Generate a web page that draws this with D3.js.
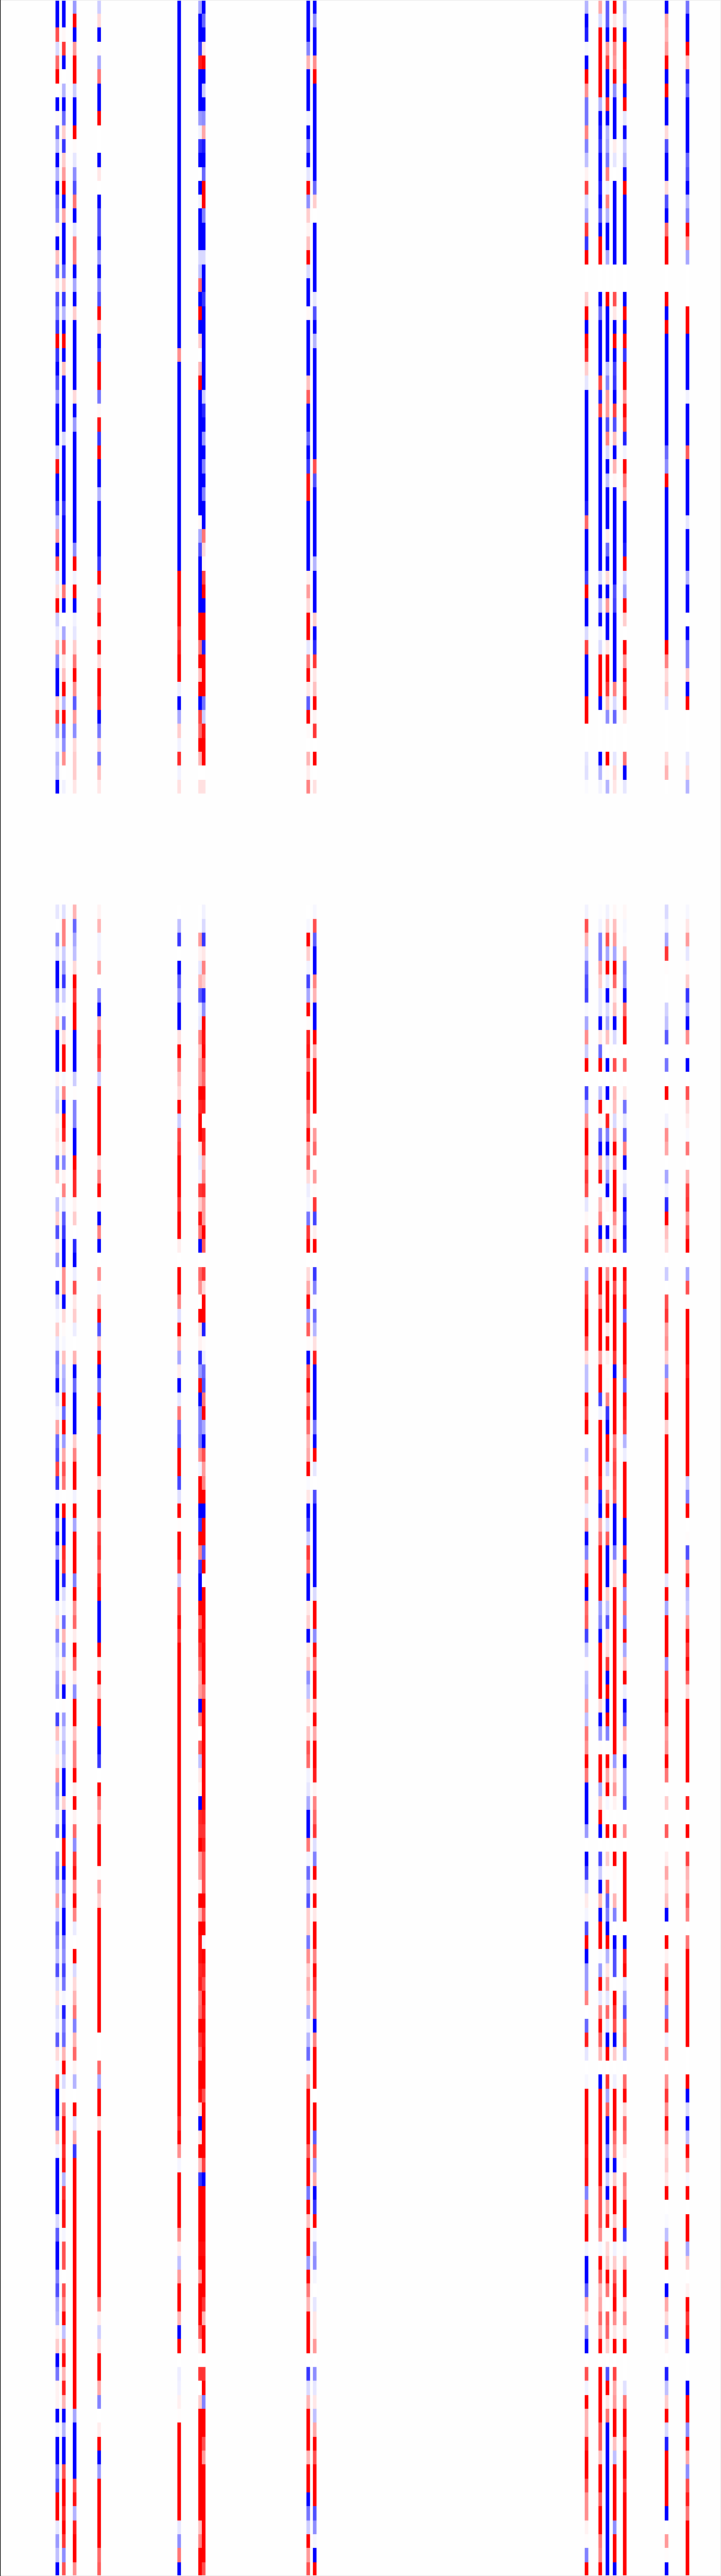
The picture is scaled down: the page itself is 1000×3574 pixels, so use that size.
<!DOCTYPE html>
<html>
<head>
<meta charset="utf-8">
<script src="https://cdn.jsdelivr.net/npm/d3@7"></script>
<style>
  html, body { margin: 0; padding: 0; background: #fff; }
  svg { display: block; }
</style>
</head>
<body>
<div id="heatmap"></div>
<script>
const FRAME_HEIGHT = 3574;
const FRAME_WIDTH = 1000;
const COLUMN_COUNT = 207;
const ROW_COUNT = 185;

// values, -10 is full blue, 10 is full red, null is an empty row
const col16 = [-10,-10,7,-1.5,6,10,0,-10,0.2,-7,-2.5,-10,-3,-10,-5.5,
  -5,0.5,-10,2.5,-6,1,-7,-5,-8,10,-8,-10,-7,-4,-10,-10,-10,-2,9.5,-10,-10,
  -7,-2.5,4,-10,7,-1,1.5,10,-2,-0.7,3,-5,-10,-10,2,7.5,-3.5,-0.5,-3,-2.5,-10,
  null,null,null,null,null,null,null,null,
  -1,0,-4.5,-1,-10,-10,-4,-1,3,-10,-10,-10,0.5,-2,-2.5,0.5,1.2,0.7,-5.5,2,0,-2.5,2,-7,
  0.8,-4,0,-9,-1.5,-0.3,2,-1,-5,-4.5,-10,-1.5,-0.5,3.5,-6,-7,7.5,-8,-0.2,-10,-5,-10,-4,-10,
  -10,-10,-1,1.5,-5,-1.5,-1,-4,-4.5,0,-7.5,2.5,-1,1,4,-4.5,-3.5,-1,-6,0,-5,-6,-2,4,
  -2,-6,-5,-2.5,-7,-1.5,1.2,-1.5,-0.7,-6.5,1.5,-0.3,7.5,-10,-10,-6.5,2.5,-0.5,-10,-10,-10,-10,-1.5,-6.5,
  -10,-10,-5,-7,-3.5,-3,0.5,2,-10,-5.5,0.5,0.5,-10,-0.5,-10,-10,-5,-7,10,10,-1,-4,-2.5,-10];

const col18 = [-10,-10,0.3,8,-10,0,-3,-10,-6,2,-8,2,4,10,-10,
  3.5,-10,-10,-10,-6,2,-8,-3,-10,10,-10,2.5,-10,-10,-10,-10,-1.5,-10,-10,-10,-10,
  -8,-10,-10,-10,-10,-10,5.5,-10,0,-3.5,6,1,2.5,10,-3,10,-6,-4.5,4.5,0,-0.5,
  null,null,null,null,null,null,null,null,
  -1.2,5,5,-2,-4,-8,-2,-0.2,-5.5,1.5,10,10,-0.3,5,-10,10,9,1.5,-5,0.5,5,-1,-6.5,-8,
  -10,-10,4.5,4.5,-10,1.5,0.2,-0.3,2.5,-3,-3.5,10,-6,10,-4,3.5,7,5.5,0,10,-10,-10,8.5,8,
  -9,-1.5,-0.5,-6,3,-5,1.2,2.5,-10,0.1,-4,-2,-3.5,-2.5,-10,-10,2,-9,-10,10,10,-10,-6,-5,
  -10,-10,-5,-4.5,-7.5,-5.5,-0.4,-9,-5,-6,3,10,-1.5,0.2,5.5,10,10,8.5,9.5,-3,8.5,9.5,9.5,-0.4,
  7,7,0,7,5,10,-2.5,5,10,3,9,3,-10,-3,-10,-10,7,10,10,8.5,10,8,-4.5,7];

const col21 = [-4,10,-10,4,10,10,-2,-10,-10,10,0.2,-1,-4.5,-7,5.5,
  -10,-1,5.5,5,-10,-3.5,-10,2,-10,-10,-10,-10,-10,1.5,-10,-4,-10,-10,-10,-10,-10,
  -10,-10,-10,-4.5,10,-0.5,10,-10,-0.5,-1,2,5.5,10,4.5,-6.5,4,-4.5,1.5,2,2,1,
  null,null,null,null,null,null,null,null,
  3,-6,-3.5,-2.5,1.5,10,8,10,10,-10,-10,-10,-2,0.1,-5,-5,-10,-10,10,8.5,8.5,0.5,2,0,
  -8.5,-10,-0.7,7,1,2,-0.7,0,3,-10,-6,-10,-10,-10,2,5,10,10,-0.5,10,-3.5,10,10,10,
  -5,10,4.5,6,0.8,10,6,1,-4.5,10,10,2.5,5,5,10,0.7,10,0.5,6,-4.5,8,9.5,4,10,
  5,-0.8,0,10,-1.5,1.5,3,5.5,-5,3,6,0.5,-3,0,10,-1.2,3.5,-8,10,10,10,10,10,10,
  10,10,10,10,10,10,10,10,10,10,10,10,-3.5,-10,-10,-10,-10,7,9.5,-3,9,10,10,4.5];

const col28 = [-2,1.5,-10,0.2,-3.5,5.5,-10,-10,10,0,0,-10,1,0,-10,
  -7,-7,-10,-4,-10,-4.5,-7,10,2,-10,-8,10,10,-5.5,0.3,9.5,-8,10,-10,-10,-3,
  -10,-10,-10,-10,-8,10,-0.7,6.5,10,1,10,1.5,10,10,8.5,-10,-5.5,1.5,-5.5,2.5,1,
  null,null,null,null,null,null,null,null,
  0.5,3,-0.5,-0.5,3.5,0,-4.5,-10,3.5,7,8.5,7.5,-2,10,10,10,10,10,1.5,5,10,0.2,-10,5,
  -10,0,4.5,-0.2,3,10,-7,2,10,-10,-5,10,-10,-6,10,10,10,1.5,10,10,2.5,8,8.5,6,
  9,10,-10,-10,-10,10,1,10,2.5,10,10,-10,-10,-8,0,10,4.5,3,10,10,10,0.2,4,2,
  10,10,10,10,10,10,10,10,10,0,0,6,-3.5,10,10,1.3,10,10,10,10,10,10,10,10,
  10,10,10,10,5,0.7,-2,1.5,10,10,3.5,-5,0,0.7,10,-10,-4,10,10,10,10,10,6,6.5];

const col51 = [-10,-10,-10,-10,-10,-10,-10,-10,-10,-10,-10,-10,-10,-10,-10,
  -10,-10,-10,-10,-10,-10,-10,-10,-10,-10,4.5,-10,-10,-10,-10,-10,-10,-10,-10,-10,-10,
  -10,-10,-10,-10,-10,10,10,10,10,8,9,10,10,-0.7,-10,-3.5,2,-0.5,8.5,-0.5,1.2,
  null,null,null,null,null,null,null,null,
  0,-2.5,-8,0,-10,-6.5,-4,-10,-10,1.2,10,4.5,2.5,1.5,10,-2,7.5,8,10,10,10,8,10,10,
  0.7,0,10,10,5,-1.3,10,2.5,-3.5,0.7,-10,-1,5.5,-6,-7,10,10,-7.5,-1.2,10,0.1,10,10,8,
  -2,7.5,7.5,10,8,10,10,10,10,10,10,10,10,10,10,10,10,10,10,10,10,10,10,10,
  10,10,10,10,10,10,10,10,10,10,10,10,10,10,10,8.5,10,4.5,-0.4,10,10,10,10,4.5,
  0.7,-2.5,4,10,10,3,-10,10,0,-0.7,-0.6,0.6,0.1,10,10,10,10,10,10,10,-1,-4.5,5.5,-10];

const col57 = [-3.5,-10,-10,-8,9,-10,-10,-10,-4,-0.5,-8,-10,0,-10,-0.5,
  -10,-10,-10,-1.5,-2.5,6,-10,10,-10,2,0,3,10,-10,-10,-10,-10,-10,-10,-10,-10,
  -10,0.3,-3.5,-7,-10,-10,-10,-10,10,10,5.5,10,2.5,10,-10,7.5,6,10,3,0,1.2,
  null,null,null,null,null,null,null,null,
  0,0,4,0.5,-1,3,-6.5,-0.7,-1,5,2.5,4,4,10,8.5,10,10,1.2,-1,-0.5,8,2,9.5,5.5,
  -10,0,6,4.5,0,10,1.2,0.5,-8.5,-4,10,-10,-5,-5,-5.5,4.5,-0.5,10,10,-10,-8,10,5,-8,
  -10,-10,10,6,9.5,8,6.5,3.5,4,-10,5.5,0,6.5,-2.5,1,0.5,-10,8.5,8,10,4,4,0.7,10,
  3,10,9.5,9.5,8.5,9,5.5,6,10,8,6,10,10,9.5,1.2,-10,1.2,10,2.5,-8,10,10,10,10,
  9.5,10,4,10,10,10,7,1,0,8,0,2,10,10,10,10,10,10,10,10,2.5,5,10,10];

const col58 = [-10,-6,-10,1,10,-10,-2,-10,-4.5,3.5,-9,-10,-6,10,10,
  -5,-10,-10,-1.5,-10,-10,-8,-10,-10,-10,-10,-10,-10,-2,-8.5,-10,-4,-10,-5,-10,-5,
  -10,-10,5.5,1.5,0.3,7.5,10,-10,10,10,-9,10,10,10,-5.5,-2,9.5,10,10,0,1.2,
  null,null,null,null,null,null,null,null,
  -0.5,-1.5,-8,1,5,2,-8.5,-4.5,10,9.5,10,7,6,10,9,0,9,8.5,3,4.5,8.5,4,4,10,
  6.5,0,8,1.5,10,10,-9,0.2,-0.7,-6,-7,5.5,10,-3.5,-10,7,4,5,10,-10,10,10,-6.5,10,
  0,10,10,10,9.5,10,10,10,5.5,10,10,10,10,10,10,10,10,9,8,9,7,7,7,10,
  7,10,-0.3,10,9,7,10,9,10,9.5,10,10,10,7,10,10,10,10,7.5,-10,10,10,10,10,
  9.5,10,10,10,8,3,10,10,0,8,10,-5,10,10,7,4,10,10,10,10,10,10,10,7];

const col88 = [-10,-10,-10,-5,3,-10,-10,-10,-0.5,-10,-5,-10,-1,10,-4.5,
  2,0.5,2.5,10,-1.5,-10,-10,0.3,-10,-10,-10,-10,2.5,6.5,-10,-10,-6,-10,-8,9.5,9.5,
  -10,-10,-10,-10,-10,0.7,4,1.5,10,10,-1,5.5,10,1,-6.5,10,0.2,0,3,0.7,5,
  null,null,null,null,null,null,null,null,
  0,-0.3,10,2,-0.5,-7.5,-3.5,10,0.2,9,9.5,5.5,10,10,6,5.5,10,4,6.5,1.5,-0.7,-0.3,-5.5,8,
  10,0,1.5,3.5,10,-4,6.5,0.2,-10,7,10,5,9.5,6,3,3.5,10,-0.2,1,-10,-8,-2,8,6,
  -10,-10,1,2,-10,1,2.5,-4.5,-2.5,2,0.3,2.5,7,6,-0.5,-1,-3.5,-10,-10,5.5,-0.5,-6,-2.5,-7,
  2,2,-5.5,4.5,2,3.5,2,-3.5,-0.5,-3,-6,-0.5,4.5,10,10,10,10,6.5,10,10,-5.5,10,2.5,10,
  10,-4,10,5.5,3,10,10,10,0,-8,-1.5,3,10,10,10,3,10,10,-10,-5.5,-2,10,4,7];

const col90 = [-10,-4.5,-10,-10,4.5,10,-10,-10,-10,-10,-10,-10,-10,-6,2,
  0,-10,-10,-10,-10,-10,-1,-7,-10,-3,-10,-10,-10,-10,-10,-10,-10,-10,7,-7,-10,
  -10,-10,-10,-10,-3,-10,-10,-10,2,-10,-8.5,8,1,2.5,10,0.5,8,0,10,0,1.2,
  null,null,null,null,null,null,null,null,
  -0.3,7,-6.5,-10,-10,5,3,-10,-10,10,3,10,10,10,10,0,4,6,0,4,0.2,8,-7.5,0.7,
  10,0,-8,-5,-0.2,-6,-3,1.2,9,-10,-10,-10,-10,-5.5,-10,10,-1,0,-7,-10,-10,-10,-10,-10,
  -10,-1.5,10,10,-4.5,10,5,10,10,2.5,10,3.5,10,10,9,0.5,5,6,8,-1.3,-5,10,0.8,10,
  1,10,10,5,10,8,6,6,-10,5,10,10,10,0,10,10,-6.5,7,-4,3.5,-10,-8,10,-0.4,
  -3.5,-4.5,-0.4,0,-1,1,1,4,0,-4.5,-1,1,-2.5,3.5,10,7,10,10,10,-7,-4.5,-0.3,-10,10];

const col168 = [-3,-10,-9,-0.3,-10,10,4.5,-5.5,-5.5,5,-5,-2.5,0.5,7.5,-1.5,
  -3.5,8,-8,10,0,0,2,10,-10,10,8.5,2,-1,-10,-10,-10,-10,-10,-10,-10,-10,
  -9,6,-10,-10,-10,-7.5,10,-10,-10,-1.5,7.5,-10,-10,-10,10,10,0,0,-1,-1.2,-0.2,
  null,null,null,null,null,null,null,null,
  -0.5,7,3,-2,-5.5,-7,-7.5,-0.3,-3.5,4.5,-2,10,0,-7.5,-3,4.5,10,10,5.5,8,7,-1,0.3,4,
  7,0,-3,7,8.5,10,10,7,1.5,-2.5,-2.5,10,7.5,10,0.1,-2.5,0.5,5.5,2.5,-0.7,4,-10,-5,4,
  10,-10,6,6.5,-7.5,-2,0.1,-2.5,-3,4,-2.5,5.5,4.5,10,5.5,-10,-10,-10,-4,0,-10,-7.5,-1.8,0.8,
  -0.4,-7,10,-10,-4,-4,5,0,-6,9,-1,0,-0.3,10,10,10,10,9,9.5,9.5,-5,5,10,10,
  -0.5,-10,-10,-6.5,3.5,1,-5,-10,0,7,-0.5,10,3,3,9,10,10,7,4.5,4.5,0.5,0.1,-5,10];

const col172 = [3.5,-1.5,10,10,10,10,10,-3,-10,-9,-8,-10,-10,-9,-10,
  -6,-10,10,10,0,0,-10,-6,-10,-10,-10,-10,7.5,-9,7.5,-10,-10,-10,-10,-10,-10,
  -10,-10,-10,-10,-10,-1.5,-10,-2.5,-10,-0.5,-1.5,10,10,10,-10,0,0,0,-10,-3,-0.5,
  null,null,null,null,null,null,null,null,
  -0.1,-0.5,-5,-5,3.5,2,-1,-1,-10,1,-6,10,0,-2.5,10,0.3,-5.5,-10,3.5,10,-0.2,3,5,-10,
  6.5,0,10,10,4.5,10,10,10,4,10,10,-7.5,-0.5,10,10,10,10,9,-9,-10,3.5,6,10,10,
  10,10,-4,-5,-10,10,10,10,10,1.5,-10,-4,0.1,10,10,-3.5,2,10,-10,0,-7.5,-2,-10,3,
  -10,10,10,-0.2,-4,10,-1,5,10,6.5,3,0,-10,10,10,10,10,10,10,10,7,7,7,4.5,
  -0.3,10,6.5,3,3.5,6,3.5,10,0,10,10,10,10,6.5,6.5,2.5,10,10,6.5,10,10,5.5,5,10];

const col174 = [-6.5,-6.5,-10,4,8,-10,-10,8,-10,-3,-3.5,-5.5,5,-0.5,5,
  -3,-10,-10,-3.5,0,0,10,-10,-10,-10,-10,-2.5,-5,4,4,-7,5,-1.5,-10,-2.5,-10,
  -10,-10,0.7,-6,-10,1.5,-10,4,-10,-10,1,10,10,8,2.5,-4.5,0,0,10,0.2,-3,
  null,null,null,null,null,null,null,null,
  -0.5,2,7,-3.5,10,-1,-10,-1.5,-3.5,2.5,0,-10,0,-10,0,9,-5,-10,-2,-4,-10,0.3,0,-10,
  -1,0,4.5,10,10,10,1,10,0.7,0.2,0.3,5,-8,-10,10,10,-2,0.3,4.5,10,-1.5,6.5,-10,-10,
  -10,2,-2.5,-7,1.5,1.5,8,-10,10,-10,10,-5,0.1,10,3.5,10,-0.3,0,10,0,2,0.1,6,-6.5,
  -5,-10,10,-3,1,4,-1,6,-1,-10,10,0,8,-3.5,6.5,-10,-10,-5,-10,-2,-10,3.5,9.5,0.1,
  1.5,2.5,10,5.5,0,6.5,6,2,0,-7,10,1,5.5,-10,-10,-10,-10,-10,-10,-10,-10,-10,-10,-10];

const col176 = [10,1,10,4.5,4,10,-4.5,-10,-10,-10,0.7,-1,0,-10,-10,
  -10,-10,-10,-10,0,0,7,1,-10,10,-10,-7.5,-8,-10,7.5,-7,2.5,-10,3,0.3,-10,
  -10,-10,-10,-10,-10,-10,-7,-7.5,-10,-10,-10,-10,-10,5,-1.5,-6,0,0,-1,1.5,1,
  null,null,null,null,null,null,null,null,
  0.3,2.5,4,-3.5,10,6,1,2.5,-10,-1.5,0,7,0,3,2.5,-1.5,3.5,10,3,10,10,10,4.5,2,
  10,0,10,7,10,10,10,10,8,-10,10,10,10,10,5,7,7.5,7,6,-10,-10,-10,-5,1.5,
  1.5,10,10,10,10,10,10,10,10,10,10,10,10,-4,2,4,0.5,0,10,0,10,0.2,-0.1,3,
  -5,0,-10,-7,-7,0,10,8,7,-10,2,0,-0.6,10,10,10,6,4.5,-10,2,10,10,2,10,
  -0.5,2,6.5,9,10,4.5,1,10,0,7.5,3.5,4,10,10,2.5,-2.5,10,10,10,10,-4.5,10,10,-10];

const col179 = [-3,-2,-10,10,10,9.5,-10,10,-1,-10,-2,-3,-10,10,-10,
  -10,-10,-10,-10,0,0,-10,10,-10,10,-8,10,10,4,10,7.5,-9,-0.5,10,5.5,3.5,
  -10,-10,-10,-9,10,-1.5,-4,10,2,0,10,4,10,7,10,1,0,0,5.5,-10,-1,
  null,null,null,null,null,null,null,null,
  0.3,-0.3,-0.2,2.5,-5,-4.5,-10,6,10,10,0,6,0,1,-5.5,-1,-6.5,5,-10,-0.5,-2,-10,-7.5,-10,
  -8,0,10,8,10,-6,10,10,10,8,-6,10,9,8,-3,-0.7,10,10,10,10,-10,-10,8,-10,
  8.5,-4.5,6,-5,10,-3.5,2.5,10,-0.7,-10,-7,3.5,1.2,-10,-4,-4,-7,0,4,0,10,10,10,10,
  10,0,-10,9,10,-1,-3.5,-7,6,6.5,-3,0,6,10,1.5,6.5,5.5,1,0.2,5.5,4.5,10,10,-8,
  -0.3,3.5,10,10,1.5,4.5,1,10,0,0,-1.2,5.5,10,10,6.5,10,10,8,10,10,10,10,10,10];

const col191 = [-10,3.5,3,4,10,-10,10,-10,-10,1.5,-7,-10,-10,1.5,-7,
  -10,6,10,10,0,0,10,-10,10,-10,-10,-10,-10,-10,-10,-10,-10,-6,-4.5,10,-10,
  -10,-10,-10,-10,-10,-10,-10,-10,-10,-10,10,5,1.5,2.5,-1.2,0,0,0,1.5,3,0,
  null,null,null,null,null,null,null,null,
  -1.5,-0.5,-3.5,8,0.1,0,0,-1.8,-2.5,-6.5,0,-5.5,0,10,0,-0.5,4.5,3.5,0,-3.5,-0.5,-8.5,10,2.5,
  1.5,0,-2,0,7,8,4,4.5,2,-4.5,4,10,10,2,10,10,10,10,10,10,10,10,10,10,
  -1,10,-3.5,10,10,10,-4,7.5,7.5,10,8.5,4,4.5,10,5.5,0,2,0,6.5,0,0.7,3.5,1.2,2.5,
  -10,0,10,0.5,4.5,10,4.5,-5,8,-0.5,4.5,0,4.5,8,4.5,10,4,1.5,2,1,10,0,-0.2,-2.5,
  6,10,0,-10,3.5,1.5,-6.5,0.5,0,-9,-2.5,2,10,-1.5,-9,10,10,10,10,-10,0,4,0.1,-10];

const col197 = [-5.5,-10,-10,10,2.5,-9,-6,-10,-10,-10,-10,-6,-7,-10,-3,
  -5,10,4.5,-3.5,0,0,0,10,10,-10,-10,-10,-10,-0.5,-10,-10,-10,6.5,-10,-10,-10,
  -10,-1,-10,-10,-10,-3,-10,-10,0,-10,-5,-5,2,-10,10,0,0,0,-1,1.5,-3,
  null,null,null,null,null,null,null,null,
  -0.3,1,4,-1,0.2,2,-8,-3,-10,4.5,0,-10,0,7,1.5,0.7,-0.2,5.5,0,3,7.5,8,4,7.5,
  10,0,-3.5,7,0.1,10,10,10,10,9,10,10,10,10,10,10,10,-2,-5,10,0,0.1,-7,4,
  10,-2.5,-2,4,10,8,10,6.5,1.5,10,10,10,10,10,10,0,9,0,10,0,7.5,3,2.5,7,
  5,0,5.5,10,10,10,10,10,10,10,0,0,10,-10,-1.5,-10,-2.5,10,3.5,-0.3,10,0,10,10,
  -3.5,2,0,0.5,10,8,9.5,-10,0,0,-10,10,10,-4.5,10,3.5,-4.5,7,9,5.5,10,10,10,10];

const columnIndex = [16, 18, 21, 28, 51, 57, 58, 88, 90, 168, 172, 174, 176, 179, 191, 197];
const columnValues = [col16, col18, col21, col28, col51, col57, col58, col88, col90, col168, col172, col174, col176, col179, col191, col197];

const FRAME = d3.select("#heatmap")
  .append("svg")
    .attr("width", FRAME_WIDTH)
    .attr("height", FRAME_HEIGHT);

const X_SCALE = d3.scaleBand()
  .domain(d3.range(COLUMN_COUNT))
  .range([0, FRAME_WIDTH]);

// the extra fraction lines the row edges up with the reference pixels
const Y_SCALE = d3.scaleBand()
  .domain(d3.range(ROW_COUNT + 1))
  .range([0.18, 0.18 + 19.32 * (ROW_COUNT + 1)]);

const COLOR_SCALE = d3.scaleLinear()
  .domain([-10, 0, 10])
  .range(["#0000ff", "#ffffff", "#ff0000"])
  .clamp(true);

FRAME.append("rect")
  .attr("width", FRAME_WIDTH)
  .attr("height", FRAME_HEIGHT)
  .attr("fill", "#fefefe");

const cells = [];
columnIndex.forEach((col, i) => {
  columnValues[i].forEach((value, row) => {
    if (value !== null) {
      cells.push({col: col, row: row, value: value});
    }
  });
});

FRAME.selectAll(".cell")
  .data(cells)
  .enter()
  .append("rect")
    .attr("class", "cell")
    .attr("x", (d) => { return Math.floor(X_SCALE(d.col)); })
    .attr("y", (d) => { return Math.floor(Y_SCALE(d.row)); })
    .attr("width", 5)
    .attr("height", (d) => { return Math.floor(Y_SCALE(d.row + 1)) - Math.floor(Y_SCALE(d.row)); })
    .attr("fill", (d) => { return COLOR_SCALE(d.value); })
    .attr("shape-rendering", "crispEdges");

// frame edges
FRAME.append("rect").attr("x", 0).attr("y", 0).attr("width", FRAME_WIDTH).attr("height", 1).attr("fill", "#eeeeee");
FRAME.append("rect").attr("x", 0).attr("y", FRAME_HEIGHT - 1).attr("width", FRAME_WIDTH).attr("height", 1).attr("fill", "#eeeeee");
FRAME.append("rect").attr("x", FRAME_WIDTH - 1).attr("y", 0).attr("width", 1).attr("height", FRAME_HEIGHT).attr("fill", "#eeeeee");
FRAME.append("rect").attr("x", 0).attr("y", 0).attr("width", 1).attr("height", FRAME_HEIGHT).attr("fill", "#222222");
</script>
</body>
</html>
